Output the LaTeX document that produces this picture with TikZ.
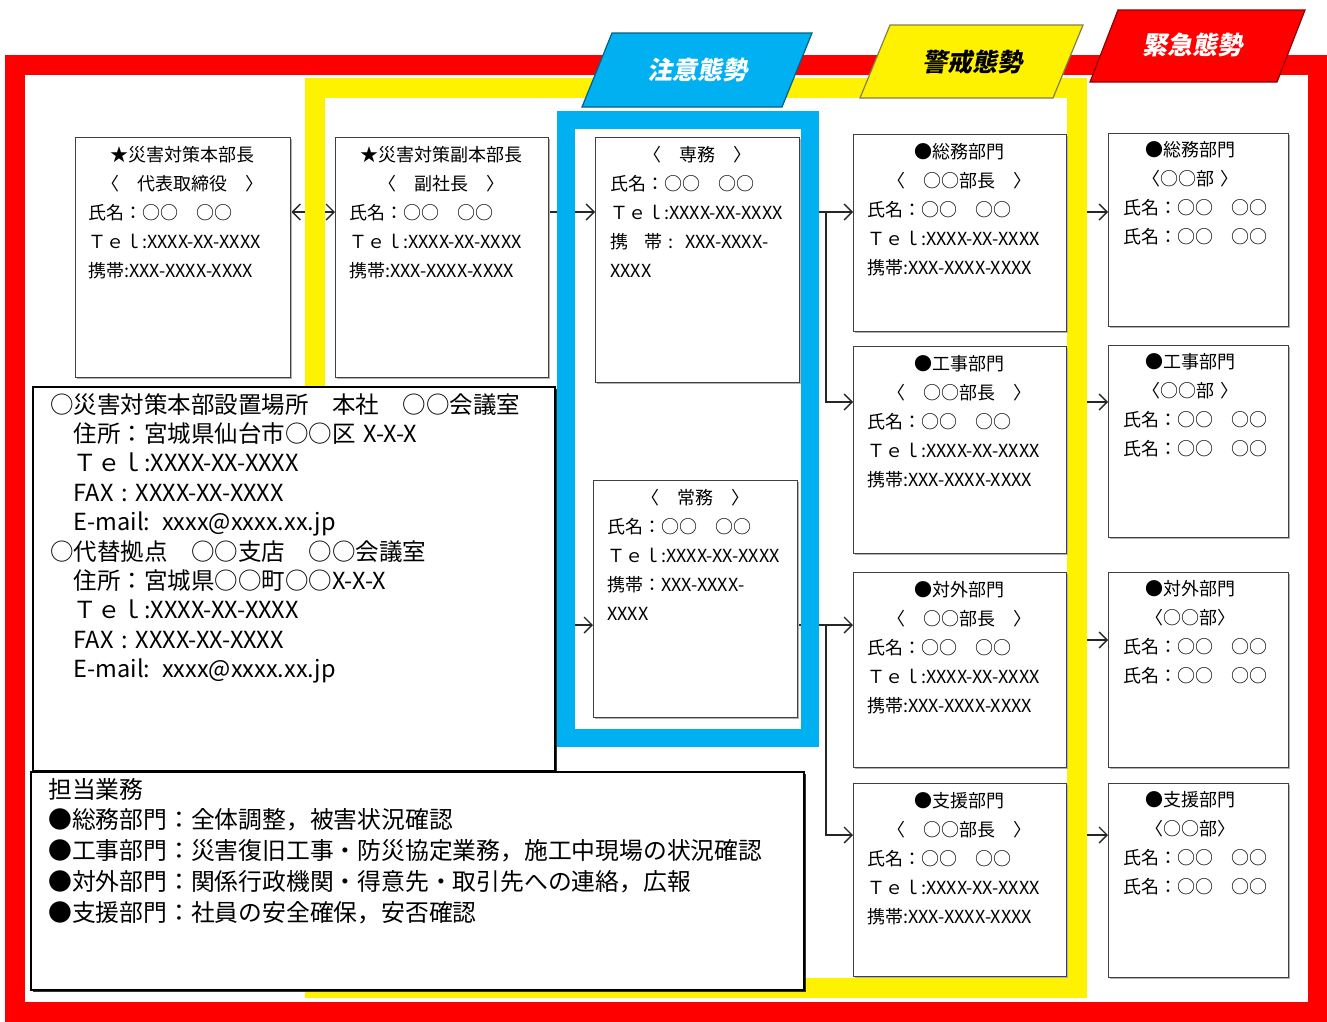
\documentclass[tikz,border=0pt]{standalone}
\usepackage{fontspec}
\setmainfont{Noto Sans CJK JP}
\newfontfamily\stancefont[FakeSlant=0.2]{Noto Sans CJK JP}
\usetikzlibrary{arrows.meta,shadows}
\setlength{\parindent}{0pt}
\definecolor{attnblue}{HTML}{00B0F0}
\pgfdeclarelayer{links}
\pgfdeclarelayer{frames}
\pgfsetlayers{links,frames,main}

\begin{document}
\begin{tikzpicture}[x=1pt,y=-1pt,
  >={Straight Barb[length=8pt,width=16pt]},
  unitbox/.style={draw=black!75, line width=1.3pt, fill=white, anchor=north west, inner sep=0pt,
    drop shadow={shadow xshift=1.5pt, shadow yshift=-1.5pt, fill=black!30, opacity=1}},
  unittext/.style={anchor=north west, inner sep=0pt, font=\fontsize{18}{29}\selectfont},
  memobox/.style={draw=black, line width=1.8pt, fill=white, anchor=north west, inner sep=0pt,
    drop shadow={shadow xshift=2pt, shadow yshift=-2pt, fill=black!80, opacity=1}},
  link/.style={draw=black!85, line width=1.4pt},
  band/.style={line width=20pt},
  stance/.style={line width=1.2pt},
  stancetext/.style={inner sep=0pt, font=\stancefont\bfseries\fontsize{25}{25}\selectfont}]

\useasboundingbox (0,0) rectangle (1327,1021);

% Headquarters
\node[unitbox, minimum width=215pt, minimum height=240pt] (chief) at (75,137) {};
\node[unittext, text width=189pt] (chieftxt) at (88,146) {\centering ★災害対策本部長\par 〈　代表取締役　〉\par\raggedright 氏名：○○　○○\par Ｔｅｌ:XXXX-XX-XXXX\par 携帯:XXX-XXXX-XXXX};
\node[unitbox, minimum width=213pt, minimum height=240pt] (vice) at (335,137) {};
\node[unittext, text width=185pt] (vicetxt) at (349,146) {\centering ★災害対策副本部長\par 〈　副社長　〉\par\raggedright 氏名：○○　○○\par Ｔｅｌ:XXXX-XX-XXXX\par 携帯:XXX-XXXX-XXXX};

% Directors
\node[unitbox, minimum width=204pt, minimum height=245pt] (senmu) at (595,137) {};
\node[unittext, text width=175pt] (senmutxt) at (610,146) {\centering 〈　専務　〉\par\raggedright 氏名：○○　○○\par Ｔｅｌ:XXXX-XX-XXXX\par \mbox{携\hspace{16pt}帯\hspace{6pt}:\hspace{12pt}XXX-XXXX-}\par XXXX};
\node[unitbox, minimum width=204pt, minimum height=237pt] (joumu) at (593,480) {};
\node[unittext, text width=176pt] (joumutxt) at (607,489) {\centering 〈　常務　〉\par\raggedright 氏名：○○　○○\par Ｔｅｌ:XXXX-XX-XXXX\par 携帯：XXX-XXXX-\par XXXX};

% Department heads
\foreach \name/\dept/\y/\h in {soumuB/総務/134/197, koujiB/工事/346/207, taigaiB/対外/572/195, shienB/支援/783/193} {
  \node[unitbox, minimum width=213pt, minimum height=\h pt] (\name) at (853,\y) {};
  \node[unittext, text width=185pt] (\name txt) at (867,\y+9) {\centering ●\dept 部門\par 〈　○○部長　〉\par\raggedright 氏名：○○　○○\par Ｔｅｌ:XXXX-XX-XXXX\par 携帯:XXX-XXXX-XXXX};
}

% Department staff
\foreach \name/\dept/\unit/\y/\h in {soumuC/総務/〈○○部 〉/133/193, koujiC/工事/〈○○部 〉/345/192, taigaiC/対外/〈○○部〉/572/195, shienC/支援/〈○○部〉/783/194} {
  \node[unitbox, minimum width=180pt, minimum height=\h pt] (\name) at (1108,\y) {};
  \node[unittext, text width=134pt] (\name txt) at (1123,\y+8) {\centering ●\dept 部門\par \unit\par\raggedright 氏名：○○　○○\par 氏名：○○　○○};
}

% Locations
\node[memobox, minimum width=522pt, minimum height=384pt] (place) at (32,386) {};
\node[unittext, text width=495pt, font=\fontsize{23.5}{29.4}\selectfont] (placetxt) at (50,393) {○災害対策本部設置場所　本社　○○会議室\par
　住所：宮城県仙台市○○区 X-X-X\par
　Ｔｅｌ:XXXX-XX-XXXX\par
　FAX : XXXX-XX-XXXX\par
　E-mail: xxxx@xxxx.xx.jp\par
○代替拠点　○○支店　○○会議室\par
　住所：宮城県○○町○○X-X-X\par
　Ｔｅｌ:XXXX-XX-XXXX\par
　FAX : XXXX-XX-XXXX\par
　E-mail: xxxx@xxxx.xx.jp};

% Duties
\node[memobox, minimum width=773pt, minimum height=218pt] (duty) at (30,771) {};
\node[unittext, text width=740pt, font=\fontsize{23.8}{30.75}\selectfont] (dutytxt) at (48,778) {担当業務\par
●総務部門：全体調整，被害状況確認\par
●工事部門：災害復旧工事・防災協定業務，施工中現場の状況確認\par
●対外部門：関係行政機関・得意先・取引先への連絡，広報\par
●支援部門：社員の安全確保，安否確認};

% Connectors
\begin{pgfonlayer}{links}
  \coordinate (rowA) at (0,212);
  \coordinate (rowB) at (0,402);
  \coordinate (rowC) at (0,625);
  \coordinate (rowD) at (0,835);
  \coordinate (rowE) at (0,640);
  \coordinate (bus) at (826,0);
  \draw[link, <->] (chief.east |- rowA) -- (vice.west |- rowA);
  \draw[link, ->] (vice.east |- rowA) -- (senmu.west |- rowA);
  \draw[link, ->] (place.east |- rowC) -- (joumu.west |- rowC);
  \draw[link, ->] (senmu.east |- rowA) -- (soumuB.west |- rowA);
  \draw[link, ->] (bus |- rowA) |- (koujiB.west |- rowB);
  \draw[link, ->] (joumu.east |- rowC) -- (taigaiB.west |- rowC);
  \draw[link, ->] (bus |- rowC) |- (shienB.west |- rowD);
  \draw[link, ->] (soumuB.east |- rowA) -- (soumuC.west |- rowA);
  \draw[link, ->] (koujiB.east |- rowB) -- (koujiC.west |- rowB);
  \draw[link, ->] (taigaiB.east |- rowE) -- (taigaiC.west |- rowE);
  \draw[link, ->] (shienB.east |- rowD) -- (shienC.west |- rowD);
\end{pgfonlayer}

% Stance frames
\begin{pgfonlayer}{frames}
  \draw[band, red] (15,65) rectangle (1318,1012);
  \draw[band, yellow] (315,88) rectangle (1077,988);
  \draw[band, attnblue, line width=18pt] (566,120) rectangle (810,738);
\end{pgfonlayer}

% Stance labels
\filldraw[stance, fill=attnblue, draw=attnblue!55!black] (612,33) -- (812,33) -- (782,107) -- (582,107) -- cycle;
\node[stancetext, text=white] (attn) at (697,70) {注意態勢};
\filldraw[stance, fill=yellow, draw=yellow!45!black] (890,25) -- (1083,25) -- (1053,98) -- (860,98) -- cycle;
\node[stancetext, text=black] (warn) at (972,62) {警戒態勢};
\filldraw[stance, fill=red, draw=red!55!black] (1118,10) -- (1305,10) -- (1277,82) -- (1090,82) -- cycle;
\node[stancetext, text=white] (emerg) at (1192,45) {緊急態勢};
\end{tikzpicture}
\end{document}
